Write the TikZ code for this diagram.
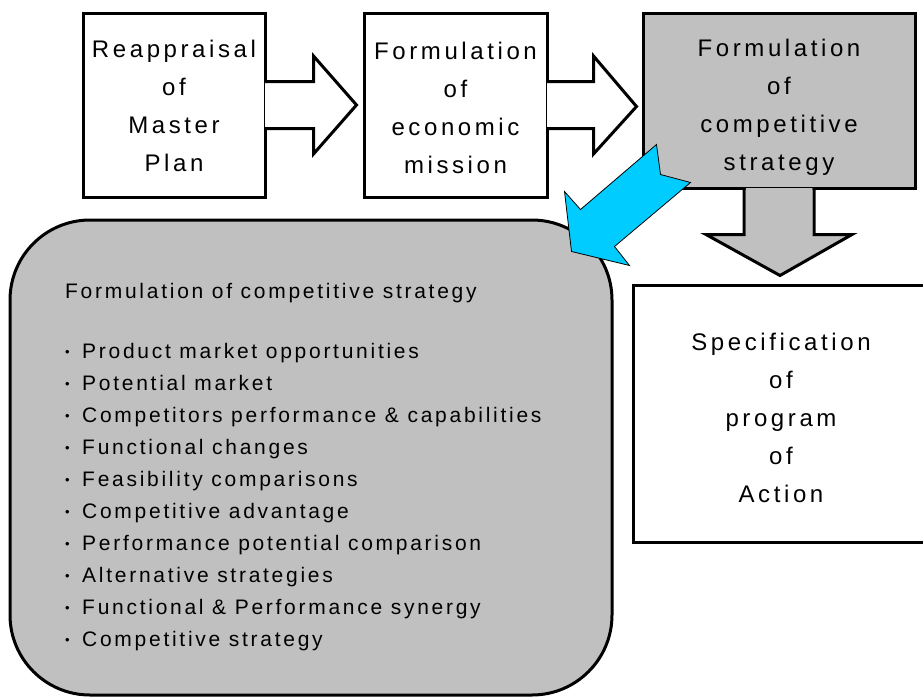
\documentclass[tikz,border=0pt]{standalone}
\usepackage{fontspec}
\usetikzlibrary{calc}
\newfontfamily\lsf{Liberation Sans}[LetterSpace=15]
\newfontfamily\lsflist{Liberation Sans}[LetterSpace=13]
\newfontfamily\plainsf{Liberation Sans}
\definecolor{boxgray}{HTML}{C0C0C0}
\definecolor{arrowcyan}{HTML}{00CCFF}
\newcommand{\bul}{\makebox[17pt][l]{\raisebox{2.3pt}{\plainsf\fontsize{13}{13}\selectfont •}}}
\tikzset{
  stepbox/.style={draw=black, line width=3pt, fill=white, inner sep=0pt},
  boxtext/.style={inner sep=0pt, align=center, font=\lsf\fontsize{24}{38}\selectfont},
  blockline/.style={draw=black, line width=3pt, line join=miter},
}
\begin{document}
\begin{tikzpicture}[x=1pt,y=-1pt]
\useasboundingbox (0,0) rectangle (923,696);
% summary rounded box
\node[draw=black, line width=3pt, fill=boxgray, rounded corners=80pt, minimum width=602pt, minimum height=475pt, inner sep=0pt] (sum) at (311,457.5) {};
\node[anchor=north west, inner sep=0pt, align=left, font=\lsflist\fontsize{21}{32}\selectfont] (list) at (65,283)
{Formulation of competitive strategy\\[28pt]
\bul Product market opportunities\\
\bul Potential market\\
\bul Competitors performance \& capabilities\\
\bul Functional changes\\
\bul Feasibility comparisons\\
\bul Competitive advantage\\
\bul Performance potential comparison\\
\bul Alternative strategies\\
\bul Functional \& Performance synergy\\
\bul Competitive strategy};
% top boxes
\node[stepbox, minimum width=182pt, minimum height=184pt] (b1) at (174,105) {};
\node[boxtext] (b1t) at ($(b1.center)+(0,1)$) {Reappraisal\\of\\Master\\Plan};
\node[stepbox, minimum width=183pt, minimum height=184pt] (b2) at (455.5,105) {};
\node[boxtext] (b2t) at ($(b2.center)+(0,3)$) {Formulation\\of\\economic\\mission};
\node[stepbox, fill=boxgray, minimum width=272pt, minimum height=175pt] (b3) at (779,100.5) {};
\node[boxtext] (b3t) at ($(b3.center)+(0,7)$) {Formulation\\of\\competitive\\strategy};
\node[stepbox, minimum width=296pt, minimum height=257pt] (b4) at (781,413.5) {};
\node[boxtext] (b4t) at ($(b4.center)+(0,4)$) {Specification\\of\\program\\of\\Action};
% block arrow b1 -> b2
\fill[white] ($(b1.east)+(-1.5,-22)$) -- ($(b1.east)+(47,-22)$) -- ($(b1.east)+(47,-49)$) -- ($(b2.west)+(-6,0)$)
  -- ($(b1.east)+(47,49)$) -- ($(b1.east)+(47,22)$) -- ($(b1.east)+(-1.5,22)$) -- cycle;
\draw[blockline] ($(b1.east)+(-1.5,-23.5)$) -- ($(b1.east)+(47,-23.5)$) -- ($(b1.east)+(47,-49)$) -- ($(b2.west)+(-6,0)$)
  -- ($(b1.east)+(47,49)$) -- ($(b1.east)+(47,23.5)$) -- ($(b1.east)+(-1.5,23.5)$);
% block arrow b2 -> b3
\fill[white] ($(b2.east)+(-1.5,-22)$) -- ($(b2.east)+(45,-22)$) -- ($(b2.east)+(45,-49)$) -- ($(b3.west)+(-5,6)$)
  -- ($(b2.east)+(45,49)$) -- ($(b2.east)+(45,22)$) -- ($(b2.east)+(-1.5,22)$) -- cycle;
\draw[blockline] ($(b2.east)+(-1.5,-23.5)$) -- ($(b2.east)+(45,-23.5)$) -- ($(b2.east)+(45,-49)$) -- ($(b3.west)+(-5,6)$)
  -- ($(b2.east)+(45,49)$) -- ($(b2.east)+(45,23.5)$) -- ($(b2.east)+(-1.5,23.5)$);
% block arrow b3 -> b4
\fill[boxgray] ($(b3.south)+(-33.5,-1.5)$) -- ($(b3.south)+(-33.5,45)$) -- ($(b3.south)+(-73,45)$) -- ($(b4.north)+(-1,-8)$)
  -- ($(b3.south)+(73,45)$) -- ($(b3.south)+(33.5,45)$) -- ($(b3.south)+(33.5,-1.5)$) -- cycle;
\draw[blockline] ($(b3.south)+(-35,-1.5)$) -- ($(b3.south)+(-35,45)$) -- ($(b3.south)+(-73,45)$) -- ($(b4.north)+(-1,-8)$)
  -- ($(b3.south)+(73,45)$) -- ($(b3.south)+(35,45)$) -- ($(b3.south)+(35,-1.5)$);
% cyan arrow b3 -> sum
\draw[fill=arrowcyan, draw=black, line width=0.8pt, line join=miter]
  ($(b3.south west)+(15,-45)$) -- ($(sum.north east)+(-33,-9)$) -- ($(sum.north east)+(-49,-27)$)
  -- ($(sum.north east)+(-42,33)$) -- ($(sum.north east)+(16,47)$) -- ($(sum.north east)+(1,28)$)
  -- ($(b3.south west)+(49,-7)$) -- ($(b3.south west)+(19,-15)$) -- cycle;
\end{tikzpicture}
\end{document}
